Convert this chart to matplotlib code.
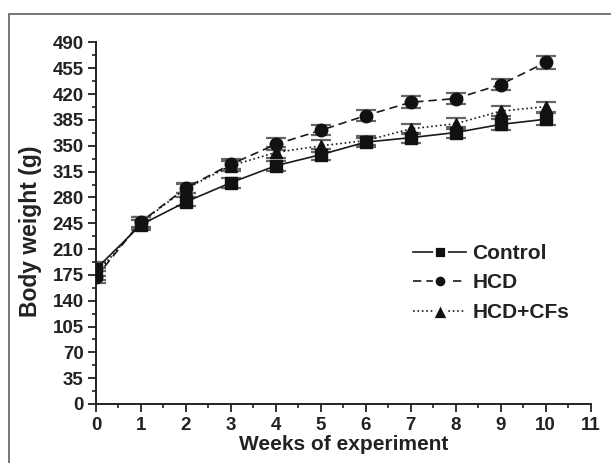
import matplotlib
matplotlib.use("Agg")
import matplotlib.pyplot as plt
from matplotlib.lines import Line2D
from matplotlib.ticker import MultipleLocator

plt.rcParams['font.family'] = ['Liberation Sans', 'DejaVu Sans']
plt.rcParams['font.weight'] = 'bold'

weeks = [0, 1, 2, 3, 4, 5, 6, 7, 8, 9, 10]
control = [183, 243, 274, 300, 323, 338, 355, 361, 368, 379, 386]
control_err = [9, 7, 6, 7, 7, 7, 6, 7, 7, 7, 8]
hcd = [172, 247, 293, 325, 352, 371, 391, 409, 414, 433, 463]
hcd_err = [8, 7, 7, 7, 8, 7, 8, 8, 8, 8, 9]
cfs = [176, 246, 292, 323, 341, 350, 357, 373, 380, 397, 403]
cfs_err = [8, 7, 6, 7, 7, 8, 6, 7, 7, 7, 7]
labels = ['Control', 'HCD', 'HCD+CFs']

W, H = 611, 463
fig = plt.figure(figsize=(W/100, H/100), dpi=100)
ax = fig.add_axes([96/W, 1-404/H, (590.7-96)/W, (404-42.5)/H])

series = [(control, control_err, '-', 's', 8),
          (hcd, hcd_err, (0, (5, 3)), 'o', 9),
          (cfs, cfs_err, ':', '^', 9)]
handles = []
for (vals, err, ls, mk, ms), lab in zip(series, labels):
    ax.errorbar(weeks, vals, yerr=err, fmt='none', ecolor='#666666',
                elinewidth=1.0, capsize=7, capthick=1.6, zorder=2)
    h, = ax.plot(weeks, vals, linestyle=ls, color='#1a1a1a', lw=1.2,
                 marker=mk, markersize=ms, markerfacecolor='#111111',
                 markeredgecolor='#111111', label=lab, zorder=3)
    handles.append(h)

ax.set_xlim(0, 11)
ax.set_ylim(0, 490)
ax.xaxis.set_major_locator(MultipleLocator(1))
ax.xaxis.set_minor_locator(MultipleLocator(0.5))
ax.yaxis.set_major_locator(MultipleLocator(35))
ax.yaxis.set_minor_locator(MultipleLocator(17.5))
for s in ['top', 'right']:
    ax.spines[s].set_visible(False)
for s in ['left', 'bottom']:
    ax.spines[s].set_linewidth(1.4)
    ax.spines[s].set_color('#222222')
ax.tick_params(which='major', direction='out', length=6, width=1.3,
               labelsize=13.5, colors='#222222', pad=3)
ax.tick_params(which='minor', direction='out', length=3, width=1.2, colors='#222222')
for t in ax.get_xticklabels() + ax.get_yticklabels():
    t.set_fontweight('bold')

ax.set_xlabel('Weeks of experiment', fontsize=15, fontweight='bold', labelpad=1, color='#222222')
ax.set_ylabel('Body weight (g)', fontsize=16.5, fontweight='bold', color='#222222')
ax.yaxis.set_label_coords(-(96-42)/(590.7-96), (404-231)/(404-42.5))

leg = ax.legend(handles=handles, loc='upper left',
                bbox_to_anchor=(413/W, 1-244/H), bbox_transform=fig.transFigure,
                frameon=False, fontsize=15, handlelength=2.55, handletextpad=0.3,
                labelspacing=0.5, borderpad=0, borderaxespad=0, numpoints=1)
for t in leg.get_texts():
    t.set_fontweight('bold')
    t.set_color('#222222')
for lh, ms in zip(leg.legend_handles, [9, 9, 11.5]):
    lh.set_markersize(ms)
    lh.set_markeredgecolor('white')
    lh.set_markeredgewidth(2.0)

# figure border (top and left)
fig.add_artist(Line2D([9/W, 1], [1-14/H, 1-14/H], transform=fig.transFigure,
                      color='#777777', lw=1.4))
fig.add_artist(Line2D([9/W, 9/W], [0, 1-14/H], transform=fig.transFigure,
                      color='#777777', lw=1.4))

fig.savefig('out.png', dpi=100)
